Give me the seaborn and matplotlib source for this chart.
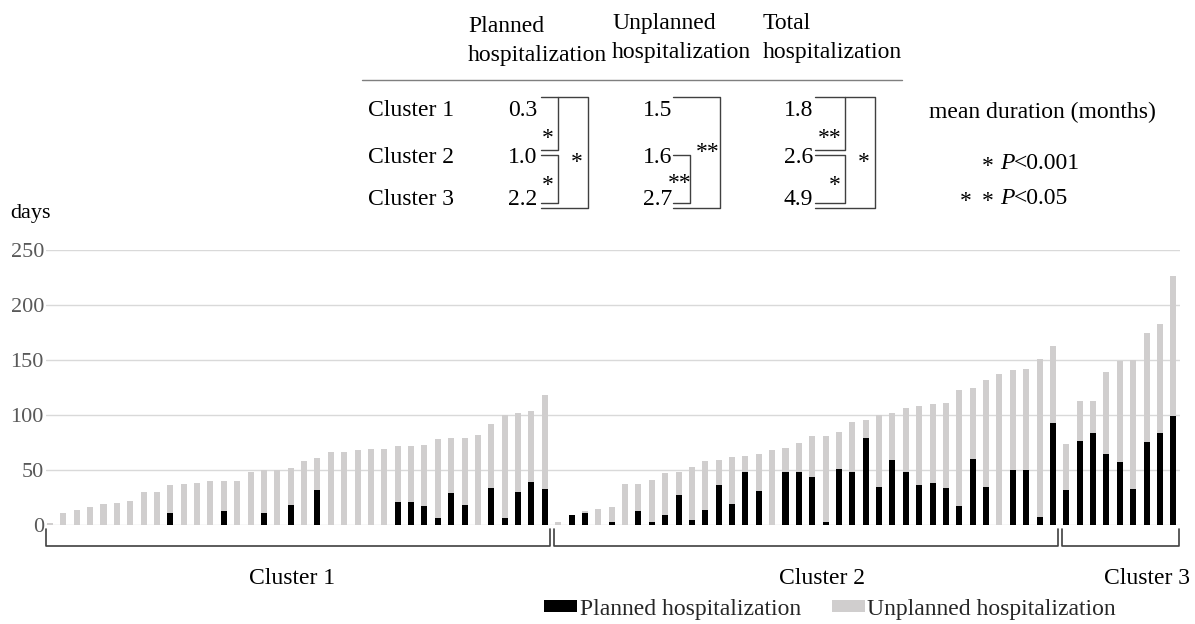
import numpy as np
import pandas as pd
import matplotlib
matplotlib.use("Agg")
import matplotlib.pyplot as plt
from matplotlib.lines import Line2D
from matplotlib.patches import Patch
import seaborn as sns

# Hospitalization days per patient (sorted by total within each cluster)
cluster1_planned = [0, 0, 0, 0, 0, 0, 0, 0, 0, 11, 0, 0, 0, 13, 0, 0, 11, 0, 18, 0,
                    32, 0, 0, 0, 0, 0, 21, 21, 17, 6, 29, 18, 0, 34, 6, 30, 39, 33]
cluster1_unplanned = [1.5, 11, 14, 16, 19, 20, 22, 30, 30, 25, 37, 38, 40, 27, 40, 48, 39, 50, 34, 58,
                      29, 66, 66, 68, 69, 69, 51, 51, 56, 72, 50, 61, 82, 58, 94, 72, 65, 85]
cluster2_planned = [0, 9.5, 11, 0, 3, 0, 13, 3, 9, 27, 5, 14, 36, 19, 48.5, 31, 0, 48.5, 48, 44,
                    3, 51, 48, 79.5, 35, 59, 48, 36, 38, 34, 17, 60, 35, 0, 50, 50, 7.5, 92.5]
cluster2_unplanned = [3, 0, 2, 15, 13, 37, 24, 38, 38, 21.5, 48, 44, 23, 43, 14.5, 34, 68, 21.5, 27, 37,
                      78, 34, 46, 16, 65, 43, 58, 72, 72, 77, 106, 65, 96.5, 137, 91, 92, 143.5, 70.5]
cluster3_planned = [32, 76.5, 84, 65, 57, 33, 75.5, 84, 99]
cluster3_unplanned = [42, 36.5, 29, 74.5, 92, 117, 99.5, 99, 127.5]

cluster_names = ["Cluster 1", "Cluster 2", "Cluster 3"]
y_ticks = [0, 50, 100, 150, 200, 250]

# Mean duration table (months)
table_headers = [("Planned", "hospitalization"),
                 ("Unplanned", "hospitalization"),
                 ("Total", "hospitalization")]
planned_means = ["0.3", "1.0", "2.2"]
unplanned_means = ["1.5", "1.6", "2.7"]
total_means = ["1.8", "2.6", "4.9"]

PLANNED_COLOR = "#000000"
UNPLANNED_COLOR = "#d0cece"
W, H = 1195, 624

sns.set_theme(style="white")
plt.rcParams["font.family"] = ["Liberation Serif", "DejaVu Serif"]

planned = cluster1_planned + cluster2_planned + cluster3_planned
unplanned = cluster1_unplanned + cluster2_unplanned + cluster3_unplanned
sizes = [len(cluster1_planned), len(cluster2_planned), len(cluster3_planned)]
df = pd.DataFrame({
    "patient": np.arange(len(planned)),
    "planned": planned,
    "unplanned": unplanned,
})
df["total"] = df["planned"] + df["unplanned"]

fig = plt.figure(figsize=(W / 100, H / 100), dpi=100)
ax = fig.add_axes([46 / W, 99 / H, 1134 / W, 275 / H])

order = list(df["patient"])
sns.barplot(data=df, x="patient", y="total", order=order, color=UNPLANNED_COLOR,
            width=0.45, linewidth=0, saturation=1, errorbar=None, ax=ax)
sns.barplot(data=df, x="patient", y="planned", order=order, color=PLANNED_COLOR,
            width=0.45, linewidth=0, saturation=1, errorbar=None, ax=ax)

ax.set_xlim(-0.3, len(df) - 0.5)
ax.set_ylim(0, 250)
ax.set_yticks(y_ticks)
ax.set_xticks([])
ax.set_xlabel("")
ax.set_ylabel("")
ax.yaxis.grid(True, color="#d9d9d9", linewidth=1)
ax.set_axisbelow(True)
for s in ax.spines.values():
    s.set_visible(False)
ax.tick_params(axis="y", length=0, pad=1.5, labelsize=16, labelcolor="#595959")


def fx(x):
    return x / W


def fy(y):
    return 1 - y / H


def ftext(x, y, s, **kw):
    kw.setdefault("fontsize", 17)
    kw.setdefault("color", "black")
    kw.setdefault("va", "baseline")
    fig.text(fx(x), fy(y), s, **kw)


def fline(xs, ys, color="#404040", lw=1.0):
    fig.add_artist(Line2D([fx(v) for v in xs], [fy(v) for v in ys],
                          color=color, linewidth=lw, transform=fig.transFigure))


ftext(10, 218, "days", fontsize=16)

# cluster brackets below the bars
start = 0
label_x = [292, 822, 1147]
for name, n, lx in zip(cluster_names, sizes, label_x):
    x0, x1 = start - 0.3, start + n - 1 + 0.4
    ax.plot([x0, x0, x1, x1], [-4, -19, -19, -4], color="#404040", lw=1.2,
            clip_on=False, solid_joinstyle="round")
    ftext(lx, 584, name, ha="center")
    start += n

# legend
handles = [Patch(facecolor=PLANNED_COLOR, edgecolor="none", label="Planned hospitalization"),
           Patch(facecolor=UNPLANNED_COLOR, edgecolor="none", label="Unplanned hospitalization")]
fig.legend(handles=handles, loc="center", bbox_to_anchor=(fx(830), fy(609)), ncol=2,
           frameon=False, fontsize=17, handlelength=1.4, handleheight=0.45,
           handletextpad=0.1, columnspacing=1.3)

# mean duration table
header_x = [468, 612, 763]
for (l1, l2), hx, b in zip(table_headers, header_x, [32, 29, 29]):
    ftext(hx, b, l1)
    ftext(hx, b + 29, l2)
fline([362, 902], [80, 80], color="#7f7f7f", lw=1.0)

row_base = [116, 163, 205]
for name, b in zip(cluster_names, row_base):
    ftext(368, b, name)
for col_vals, rx in zip([planned_means, unplanned_means, total_means], [537, 672, 813]):
    for v, b in zip(col_vals, row_base):
        ftext(rx, b, v, ha="right")


def star(x, yc, s):
    ftext(x, yc + 11, s, ha="center")


# planned column brackets
fline([541, 558, 558, 541], [97, 97, 150, 150])
fline([541, 558, 558, 541], [155, 155, 203, 203])
fline([558, 588, 588, 541], [97, 97, 208, 208])
star(548, 133, "*")
star(548, 180, "*")
star(577, 157, "*")

# unplanned column brackets
fline([673, 720, 720, 673], [97, 97, 208, 208])
fline([673, 690, 690, 673], [155, 155, 203, 203])
star(708, 147, "**")
star(680, 178, "**")

# total column brackets
fline([815, 845, 845, 815], [97, 97, 150, 150])
fline([815, 845, 845, 815], [155, 155, 203, 203])
fline([845, 875, 875, 815], [97, 97, 208, 208])
star(830, 133, "**")
star(835, 180, "*")
star(864, 157, "*")

# significance key
ftext(929, 118, "mean duration (months)")
star(988, 161, "*")
ftext(1000, 169, "P", fontstyle="italic")
ftext(1014, 169, "<0.001")
star(966, 196, "*")
star(988, 196, "*")
ftext(1000, 204, "P", fontstyle="italic")
ftext(1014, 204, "<0.05")

fig.savefig("out.png", dpi=100)
